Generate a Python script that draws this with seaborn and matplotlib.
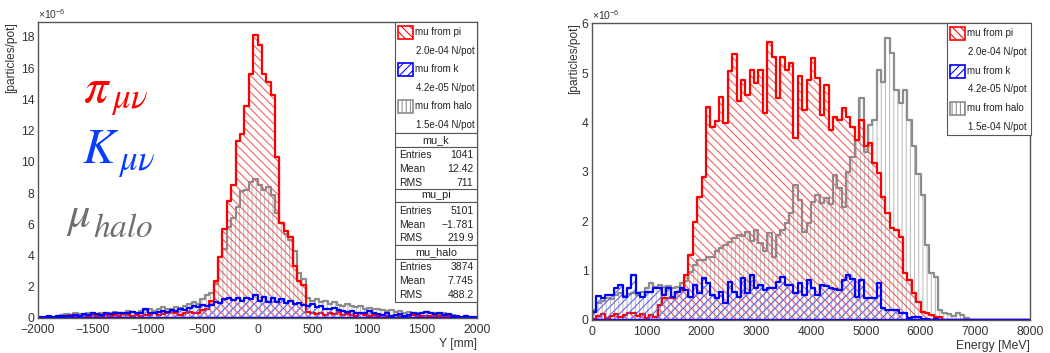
import numpy as np
import matplotlib
matplotlib.use("Agg")
import matplotlib.pyplot as plt
from matplotlib.patches import Rectangle
from matplotlib.ticker import MultipleLocator
import seaborn as sns

# ---- data (values in units of 1e-6 particles/pot), 100 bins per panel ----
y_range, y_width = (-2000, 2000), 40
e_range, e_width = (0, 8000), 80

y_pi = [0, 0, 0, 0, 0, 0,
        0.1, 0.2, 0.15, 0.1, 0.2, 0.15, 0.2, 0.1, 0.15, 0.2, 0.1, 0.2, 0.15, 0.25, 0.2, 0.1, 0.2, 0.15, 0.2,
        0.2, 0.3, 0.2, 0.25, 0.3,
        0.4, 0.35, 0.2, 0.3, 0.4, 0.3, 0.35, 0.5, 0.6,
        1.1, 2.4, 3.9, 5.7, 7.5, 8.5, 11.3, 11.8, 13.6, 15.6, 18.1,
        17.5, 15.6, 15.1, 14.3, 10.3, 6.1, 5.6, 5.2, 3.3, 2.4, 2.1,
        0.4, 0.3, 0.25, 0.35, 0.2, 0.3, 0.25, 0.4, 0.2, 0.25, 0.2, 0.15, 0.3, 0.2, 0.15, 0.2, 0.1,
        0.2, 0.15, 0.1, 0.2, 0.15, 0.1, 0.15, 0.2, 0.1, 0.15, 0.1, 0.15, 0.1, 0.15, 0.1, 0.1,
        0, 0, 0, 0, 0, 0]
y_halo = [0, 0, 0, 0, 0, 0.2,
          0.25, 0.2, 0.3, 0.25, 0.2, 0.3, 0.35, 0.25, 0.3,
          0.3, 0.35, 0.4, 0.3, 0.35, 0.45, 0.4, 0.35, 0.45, 0.5,
          0.55, 0.45, 0.6, 0.7, 0.6,
          0.6, 0.7, 0.65, 0.8, 0.9, 1.0, 0.9, 1.2, 1.5,
          1.6, 2.2, 3.9, 4.4, 5.8, 6.4, 7.1, 8.1, 8.2, 8.7, 8.9, 8.5, 8.2, 8.4, 7.9, 6.7, 6.1, 5.4,
          5.0, 4.3, 2.9, 2.5,
          1.3, 1.1, 1.2, 1.0, 1.1, 0.9, 1.0, 0.85, 0.8, 0.9, 0.75, 0.7, 0.8, 0.6, 0.65, 0.55, 0.6,
          0.5, 0.45, 0.5, 0.4, 0.45, 0.35, 0.4, 0.3, 0.35, 0.3, 0.4, 0.35, 0.3, 0.25, 0.3, 0.2, 0.2,
          0, 0, 0, 0, 0]
y_k = [0.05, 0.05, 0.1, 0.05, 0.1, 0.1,
       0.15, 0.1, 0.2, 0.15, 0.25, 0.2, 0.3, 0.25, 0.2,
       0.3, 0.25, 0.35, 0.3, 0.35, 0.3, 0.4, 0.35, 0.3, 0.55,
       0.35, 0.3, 0.4, 0.45, 0.4, 0.5, 0.45, 0.6, 0.5, 0.65,
       0.75, 0.7, 0.85, 0.8, 0.85, 1.0, 0.95, 1.2, 1.25, 1.15,
       1.25, 1.1, 1.3, 1.2, 1.45, 1.1, 1.35, 1.0, 1.25, 1.05,
       1.2, 0.95, 1.1, 0.9, 0.95, 0.85, 0.75, 0.9, 0.7, 0.8,
       0.6, 0.55, 0.65, 0.5, 0.45, 0.4, 0.45, 0.35, 0.3, 0.35,
       0.45, 0.3, 0.25, 0.2, 0.3, 0.15, 0.2, 0.25, 0.15, 0.2,
       0.3, 0.25, 0.35, 0.4, 0.3, 0.25, 0.3, 0.2, 0.25, 0.15,
       0.1, 0.05, 0.1, 0.05, 0.05]

e_pi = [0.03, 0.08, 0.12, 0.05, 0.08, 0.12, 0.06, 0.1, 0.14, 0.15, 0.08, 0.12, 0.05, 0.1, 0.06,
        0.3, 0.44, 0.44, 0.45, 0.57, 0.6, 0.91, 1.32, 1.99, 2.5, 2.9,
        4.31, 3.92, 4.04, 4.53, 4.0, 5.04, 5.4, 4.43, 4.87, 4.56, 5.07, 4.80, 5.07, 4.19,
        5.63, 5.34, 4.5, 5.34, 5.07, 5.2, 3.69, 4.94, 4.26, 4.87, 5.31, 4.90, 4.16, 4.77,
        3.85, 4.12, 4.06, 4.29, 4.12, 3.92, 3.65, 4.06, 3.52, 3.58, 3.18, 2.98,
        2.5, 2.16, 1.86, 1.83, 1.69, 0.95, 0.81, 0.54, 0.37, 0.17, 0.14, 0.1, 0.07, 0.07,
        0, 0, 0, 0, 0, 0, 0, 0, 0, 0, 0, 0, 0, 0, 0, 0, 0, 0, 0, 0]
e_halo = [0.2, 0.35, 0.38, 0.44, 0.42, 0.5, 0.54, 0.48, 0.52, 0.55, 0.5, 0.57, 0.64, 0.74, 0.67,
          0.71, 0.66, 0.68, 0.64, 0.66, 0.74, 0.8, 0.98, 1.12,
          1.22, 1.22, 1.28, 1.28, 1.39, 1.45, 1.52, 1.59, 1.66, 1.73, 1.7, 1.79, 1.6, 1.83,
          1.56, 1.39, 1.76, 1.28, 1.73, 1.83, 1.96, 2.16, 2.74, 2.43, 1.79, 1.96, 2.40, 2.54,
          2.37, 2.47, 2.35, 2.94, 2.67, 2.30,
          3.0, 3.3, 3.65, 4.5, 3.4, 3.96, 4.05, 5.07, 4.83, 5.71, 5.41, 4.67, 4.40, 4.67, 4.06,
          3.52, 2.95, 2.54, 1.52, 0.95, 0.88, 0.2, 0.15, 0.12, 0.08, 0.14, 0.1, 0.05,
          0, 0, 0, 0, 0, 0, 0, 0, 0, 0, 0, 0, 0, 0]
e_k = [0.17, 0.49, 0.44, 0.51, 0.51, 0.64, 0.71, 0.47, 0.64, 0.91,
       0.54, 0.47, 0.57, 0.57, 0.64, 0.64, 0.51, 0.64, 0.47, 0.57,
       0.64, 0.6, 0.47, 0.71, 0.54, 0.85, 0.74, 0.51, 0.44, 0.57,
       0.34, 0.78, 0.57, 0.47, 0.85, 0.54, 0.91, 0.64, 0.71, 0.6,
       0.64, 0.64, 0.78, 0.88, 0.71, 0.71, 0.54, 0.74, 0.51, 0.81,
       0.64, 0.51, 0.71, 0.68, 0.64, 0.62, 0.6, 0.81, 0.91, 0.84,
       0.47, 0.81, 0.44, 0.44, 0.44, 0.74, 0.24, 0.2, 0.2, 0.2,
       0.14, 0.14, 0.04, 0.07, 0.07, 0.02, 0.03, 0.01, 0.02, 0.0,
       0.01, 0, 0, 0.01, 0, 0, 0, 0, 0, 0, 0, 0, 0, 0, 0, 0, 0, 0, 0, 0]

legend_labels = ["mu from pi", "mu from k", "mu from halo"]
legend_norms = ["2.0e-04 N/pot", "4.2e-05 N/pot", "1.5e-04 N/pot"]
stat_names = ["mu_k", "mu_pi", "mu_halo"]
stat_entries = ["1041", "5101", "3874"]
stat_means = ["12.42", "\u22121.781", "7.745"]
stat_rms = ["711", "219.9", "488.2"]

# ---- style ----
sns.set_theme(style="white")
plt.rcParams["font.family"] = ["Liberation Sans", "DejaVu Sans"]
plt.rcParams["mathtext.fontset"] = "stix"
plt.rcParams["hatch.linewidth"] = 0.75

series_style = {
    "halo": ("#8c8c8c", "#bdbdbd", "||||"),
    "pi": ("#ff0000", "#f05a5a", "\\\\\\\\"),
    "k": ("#0000ff", "#5a5aff", "////"),
}

W, H = 1050, 353
fig = plt.figure(figsize=(W / 100, H / 100), dpi=100)


def fx(px):
    return px / W


def fy(py):
    return 1 - py / H


ax1 = fig.add_axes([fx(38), fy(318), (477 - 38) / W, (318 - 22) / H])
ax2 = fig.add_axes([fx(592), fy(320), (1030 - 592) / W, (320 - 23) / H])


def draw_hist(ax, rng, width, vals, key):
    line, hcol, hatch = series_style[key]
    centers = np.arange(rng[0], rng[1], width) + width / 2
    # hatched body, then the outline on top
    sns.histplot(x=centers, weights=vals, binwidth=width, binrange=rng, element="step",
                 fill=True, color=hcol, facecolor="none", edgecolor=hcol, linewidth=0,
                 hatch=hatch, ax=ax)
    sns.histplot(x=centers, weights=vals, binwidth=width, binrange=rng, element="step",
                 fill=True, color=line, facecolor="none", edgecolor=line, linewidth=1.6,
                 ax=ax)


for key, vals in [("halo", y_halo), ("pi", y_pi), ("k", y_k)]:
    draw_hist(ax1, y_range, y_width, vals, key)
for key, vals in [("halo", e_halo), ("pi", e_pi), ("k", e_k)]:
    draw_hist(ax2, e_range, e_width, vals, key)

ax1.set_xlim(-2000, 2000)
ax1.set_ylim(0, 18.95)
ax1.xaxis.set_major_locator(MultipleLocator(500))
ax1.xaxis.set_minor_locator(MultipleLocator(100))
ax1.yaxis.set_major_locator(MultipleLocator(2))
ax1.yaxis.set_minor_locator(MultipleLocator(0.4))

ax2.set_xlim(0, 8000)
ax2.set_ylim(0, 6.02)
ax2.xaxis.set_major_locator(MultipleLocator(1000))
ax2.xaxis.set_minor_locator(MultipleLocator(200))
ax2.yaxis.set_major_locator(MultipleLocator(1))
ax2.yaxis.set_minor_locator(MultipleLocator(0.2))

for ax, xl, lp in [(ax1, "Y [mm]", 3), (ax2, "Energy [MeV]", 1)]:
    ax.tick_params(which="both", direction="in", top=False, right=False,
                   colors="#333333", labelsize=8.7, pad=2.5)
    ax.tick_params(axis="y", which="major", length=9, width=0.9)
    ax.tick_params(axis="y", which="minor", length=4.5, width=0.8)
    ax.tick_params(axis="x", which="major", length=5, width=0.9, pad=4.5)
    ax.tick_params(axis="x", which="minor", length=2.5, width=0.8)
    for s in ax.spines.values():
        s.set_color("#555555")
        s.set_linewidth(1.0)
    ax.set_xlabel(xl, loc="right", fontsize=8.7, color="#333333", labelpad=1)
    ax.set_ylabel("[particles/pot]", loc="top", fontsize=8.6, color="#333333", labelpad=lp)
    ax.text(0, 1.005, r"$\mathregular{\times10^{-6}}$", transform=ax.transAxes,
            fontsize=7.5, color="#333333", va="bottom", ha="left")

# big channel labels (symbol and subscript placed separately)
labels_big = [
    (r"$\pi$", r"$\mu\nu$", "#ff0000", (83, 102, 35), (111, 108, 25)),
    (r"$K$", r"$\mu\nu$", "#0a3cff", (82, 163, 35), (118, 170, 25)),
    (r"$\mu$", r"$halo$", "#6e6e6e", (66, 227, 32), (93, 237, 24)),
]
for main, sub, col, (mx, my, ms), (sx, sy, ss) in labels_big:
    fig.text(fx(mx), fy(my), main, color=col, fontsize=ms, va="baseline")
    fig.text(fx(sx), fy(sy), sub, color=col, fontsize=ss, va="baseline")


def box(x0, y0, x1, y1):
    fig.add_artist(Rectangle((fx(x0), fy(y1)), (x1 - x0) / W, (y1 - y0) / H,
                             transform=fig.transFigure, facecolor="white",
                             edgecolor="#555555", lw=0.8, zorder=5))


def legend(x0, y0, x1, y1, rows):
    box(x0, y0, x1, y1)
    keys = ["pi", "k", "halo"]
    for j, key in enumerate(keys):
        line, hcol, hatch = series_style[key]
        r1, r2 = rows[2 * j], rows[2 * j + 1]
        fig.add_artist(Rectangle((fx(x0 + 2.5), fy(r1 + 6.5)), 15 / W, 13 / H,
                                 transform=fig.transFigure, facecolor="white",
                                 edgecolor=line, hatch=hatch, lw=1.2, zorder=6))
        fig.text(fx(x0 + 20), fy(r1), legend_labels[j], fontsize=7.0,
                 color="#222222", va="center", zorder=7)
        fig.text(fx(x0 + 21), fy(r2), legend_norms[j], fontsize=7.0,
                 color="#222222", va="center", zorder=7)


legend(395, 22, 477, 133, [32, 51, 69, 88, 106, 125])
legend(947, 23, 1031, 135, [33, 52, 71, 89, 108, 127])

# stats boxes on the left panel
tops = [133, 188.5, 245]
for j in range(3):
    t = tops[j]
    box(395, t, 477, t + 13.5)
    fig.text(fx(436), fy(t + 6.8), stat_names[j], fontsize=7.8, color="#222222",
             ha="center", va="center", zorder=7)
    box(395, t + 13.5, 477, t + 56.5)
    rows = [("Entries", stat_entries[j]), ("Mean", stat_means[j]), ("RMS", stat_rms[j])]
    for k, (lab, val) in enumerate(rows):
        yy = t + 22.5 + 13.6 * k
        fig.text(fx(399), fy(yy), lab, fontsize=7.5, color="#222222", va="center", zorder=7)
        fig.text(fx(473.5), fy(yy), val, fontsize=7.5, color="#222222", va="center",
                 ha="right", zorder=7)

fig.savefig("out.png", dpi=100)
